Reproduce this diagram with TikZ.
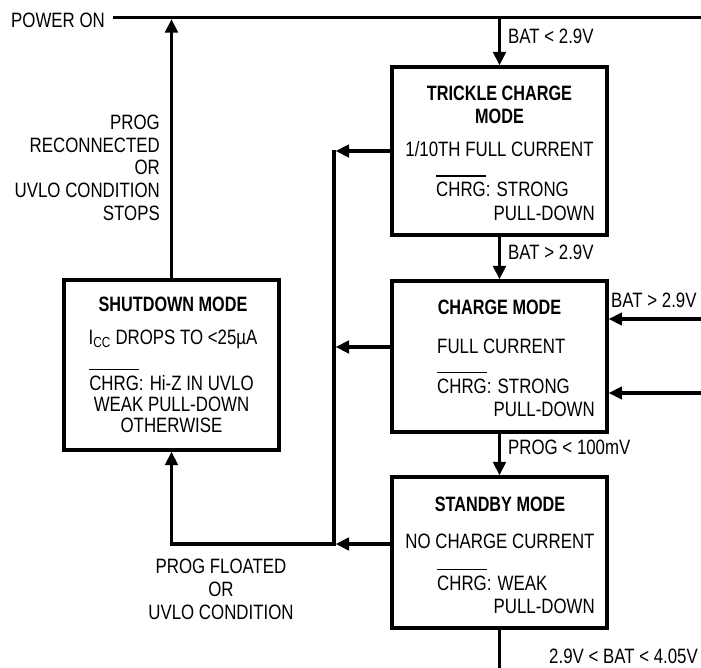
\documentclass[tikz,border=0pt]{standalone}
\usepackage{fontspec}
\setmainfont{Liberation Sans}[FakeStretch=0.81,BoldFeatures={FakeStretch=0.78}]
\usetikzlibrary{arrows.meta}
\newcommand{\modefont}{\fontsize{20.8}{23}\selectfont}
\newcommand{\chrgbar}{\leavevmode\vbox{\hrule height 1.6pt\kern 5.5pt\hbox{CHRG}}}
\tikzset{
  txt/.style={inner sep=0pt,font=\modefont},
  ttl/.style={inner sep=0pt,font=\modefont\bfseries},
  modebox/.style={draw,line width=3.2pt,minimum width=215pt,inner sep=0pt},
  wire/.style={line width=3.2pt},
  arr/.style={wire,-{Triangle[length=13.5pt,width=12.5pt]}}
}

\begin{document}
\begin{tikzpicture}[x=1pt,y=-1pt]
  \useasboundingbox (0,0) rectangle (701,668);
  \node[txt,anchor=base east] (pwr) at (105,27.5) {POWER ON};
  \coordinate (rail-w) at (113,17.5);
  \coordinate (rail-e) at (701,17.5);
  \draw[wire] (rail-w) -- (rail-e);

  \node[modebox,minimum height=168pt] (trickle) at (499.5,151) {};
  \node[modebox,minimum height=151pt] (charge) at (499.5,356.5) {};
  \node[modebox,minimum height=151pt] (standby) at (499.5,552.5) {};
  \node[modebox,minimum height=170pt] (shutdown) at (171.5,365) {};

  \node[ttl,anchor=base] (trickle-t1) at (499.5,100.5) {TRICKLE CHARGE};
  \node[ttl,anchor=base] (trickle-t2) at (499.5,123.5) {MODE};
  \node[txt,anchor=base] (trickle-i) at (499.5,156.5) {1/10TH FULL CURRENT};
  \node[txt,anchor=base west] (trickle-c) at (436,197) {\chrgbar: STRONG};
  \node[txt,anchor=base east] (trickle-p) at (595,220.5) {PULL-DOWN};

  \node[ttl,anchor=base] (charge-t) at (499.5,314.5) {CHARGE MODE};
  \node[txt,anchor=base west] (charge-i) at (437,353.5) {FULL CURRENT};
  \node[txt,anchor=base west] (charge-c) at (437,393.5) {\chrgbar: STRONG};
  \node[txt,anchor=base east] (charge-p) at (595,416.5) {PULL-DOWN};

  \node[ttl,anchor=base] (standby-t) at (500,511.5) {STANDBY MODE};
  \node[txt,anchor=base] (standby-i) at (500,548.5) {NO CHARGE CURRENT};
  \node[txt,anchor=base west] (standby-c) at (437,590.5) {\chrgbar: WEAK};
  \node[txt,anchor=base east] (standby-p) at (595,613.5) {PULL-DOWN};

  \node[ttl,anchor=base] (shutdown-t) at (173,311.5) {SHUTDOWN MODE};
  \node[txt,anchor=base] (shutdown-i) at (173,344.5) {I\textsubscript{CC} DROPS TO <25µA};
  \node[txt,anchor=base] (shutdown-c) at (171.5,390.5) {\chrgbar: Hi-Z IN UVLO};
  \node[txt,anchor=base] (shutdown-w) at (171.5,411.5) {WEAK PULL-DOWN};
  \node[txt,anchor=base] (shutdown-o) at (171.5,432.5) {OTHERWISE};

  \draw[arr,shorten >=1.6pt] (shutdown.north) -- (shutdown.north |- rail-w);
  \draw[arr] (trickle.north |- rail-w) -- (trickle.north);
  \draw[arr] (trickle.south) -- (charge.north);
  \draw[arr] (charge.south) -- (standby.north);
  \coordinate (exit) at (499.5,668);
  \draw[wire] (standby.south) -- (exit);

  \coordinate (bus-top) at (334,150.4);
  \coordinate (bus-bot) at (334,544);
  \draw[arr] (bus-top) -- (bus-bot) -| (shutdown.south);
  \draw[arr,shorten >=1.6pt] (trickle.west) -- (trickle.west -| bus-top);
  \coordinate (charge-out) at ([yshift=9.5pt]charge.west);
  \draw[arr,shorten >=1.6pt] (charge-out) -- (charge-out -| bus-top);
  \coordinate (standby-out) at ([yshift=8.5pt]standby.west);
  \draw[arr,shorten >=1.6pt] (standby-out) -- (standby-out -| bus-top);

  \coordinate (bat-in) at (701,319);
  \coordinate (ret-in) at (701,393);
  \draw[arr] (bat-in) -- (bat-in -| charge.east);
  \draw[arr] (ret-in) -- (ret-in -| charge.east);

  \node[txt,anchor=base west] (lbl-low) at (508,43.5) {BAT < 2.9V};
  \node[txt,anchor=base west] (lbl-up) at (508,260) {BAT > 2.9V};
  \node[txt,anchor=base west] (lbl-ext) at (611,307.5) {BAT > 2.9V};
  \node[txt,anchor=base west] (lbl-prog) at (508,454.5) {PROG < 100mV};
  \node[txt,anchor=base east] (lbl-bat) at (698,663.5) {2.9V < BAT < 4.05V};

  \foreach \wording [count=\i] in {PROG,RECONNECTED,OR,UVLO CONDITION,STOPS}
    \node[txt,anchor=base east] (back-\i) at (160,{129.5+22.75*(\i-1)}) {\wording};
  \foreach \wording [count=\i] in {PROG FLOATED,OR,UVLO CONDITION}
    \node[txt,anchor=base] (float-\i) at (221,{573.5+23*(\i-1)}) {\wording};
\end{tikzpicture}
\end{document}
